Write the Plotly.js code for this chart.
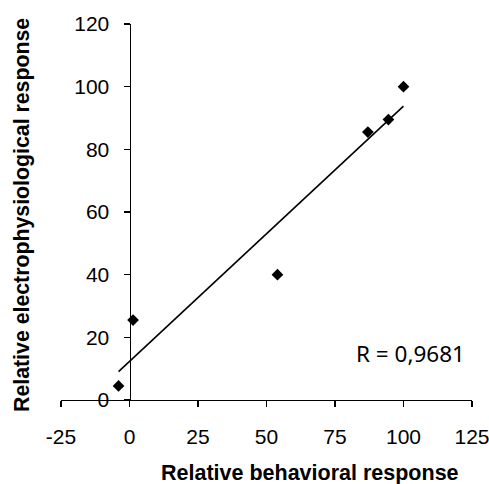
<!DOCTYPE html>
<html>
<head>
<meta charset="utf-8">
<script src="https://cdn.plot.ly/plotly-3.0.1.min.js"></script>
<style>html,body{margin:0;padding:0;background:#fff;}#chart{width:489px;height:484px;}</style>
</head>
<body>
<div id="chart"></div>
<script>
// Data
const behavioral = [-4, 1.3, 54, 87, 94.5, 100];
const electro = [4.5, 25.5, 40, 85.5, 89.5, 100];
const xTicks = [-25, 0, 25, 50, 75, 100, 125];
const yTicks = [0, 20, 40, 60, 80, 100, 120];
const rLabel = "R = 0,9681";
const xTitle = "Relative behavioral response";
const yTitle = "Relative electrophysiological response";

// Least-squares linear trendline
function linFit(xs, ys) {
  const n = xs.length;
  const mx = xs.reduce((a, b) => a + b, 0) / n;
  const my = ys.reduce((a, b) => a + b, 0) / n;
  let sxy = 0, sxx = 0;
  for (let i = 0; i < n; i++) { sxy += (xs[i] - mx) * (ys[i] - my); sxx += (xs[i] - mx) ** 2; }
  const slope = sxy / sxx;
  return { slope, intercept: my - slope * mx };
}
const fit = linFit(behavioral, electro);
const xMin = Math.min(...behavioral), xMax = Math.max(...behavioral);
const trendX = [xMin, xMax];
const trendY = trendX.map(v => fit.slope * v + fit.intercept);

const xRange = [-25, 125];
const yAxisPos = (0 - xRange[0]) / (xRange[1] - xRange[0]);

const data = [
  { x: trendX, y: trendY, mode: 'lines', type: 'scatter', line: { color: '#000', width: 1.6 }, hoverinfo: 'skip' },
  { x: behavioral, y: electro, mode: 'markers', type: 'scatter', marker: { symbol: 'diamond', size: 9, color: '#000' } }
];

const tickFont = { family: 'Liberation Sans, Arial, sans-serif', size: 21, color: '#000' };
const layout = {
  width: 489, height: 484,
  margin: { l: 61, r: 17, t: 24, b: 84 },
  paper_bgcolor: '#fff', plot_bgcolor: '#fff',
  showlegend: false,
  xaxis: {
    range: xRange, tickvals: xTicks, ticktext: xTicks.map(String),
    showgrid: false, zeroline: false, showline: true, linecolor: '#000', linewidth: 1.3,
    ticks: 'outside', ticklen: 6, tickwidth: 1.3, tickcolor: '#000',
    tickfont: tickFont, ticklabelstandoff: 11, ticklabeloverflow: 'allow'
  },
  yaxis: {
    range: [0, 120], tickvals: yTicks, ticktext: yTicks.map(String),
    anchor: 'free', position: yAxisPos,
    showgrid: false, zeroline: false, showline: true, linecolor: '#000', linewidth: 1.3,
    ticks: 'outside', ticklen: 6, tickwidth: 1.3, tickcolor: '#000',
    tickfont: tickFont, ticklabelstandoff: 10, ticklabeloverflow: 'allow'
  },
  annotations: [
    { text: xTitle, xref: 'paper', yref: 'paper', x: 0.606, y: -0.194, xanchor: 'center', yanchor: 'middle', showarrow: false,
      font: { family: 'Liberation Sans, Arial, sans-serif', size: 21.5, color: '#000', weight: 'bold' } },
    { text: yTitle, xref: 'paper', yref: 'paper', x: -0.095, y: 0.492, xanchor: 'center', yanchor: 'middle', textangle: -90, showarrow: false,
      font: { family: 'Liberation Sans, Arial, sans-serif', size: 21.3, color: '#000', weight: 'bold' } },
    { text: rLabel, xref: 'x', yref: 'y', x: 102.6, y: 15, xanchor: 'center', yanchor: 'middle', showarrow: false,
      font: { family: 'Noto Sans, sans-serif', size: 22.5, color: '#000' } }
  ]
};

Plotly.newPlot('chart', data, layout, { displayModeBar: false, staticPlot: true });
</script>
</body>
</html>
